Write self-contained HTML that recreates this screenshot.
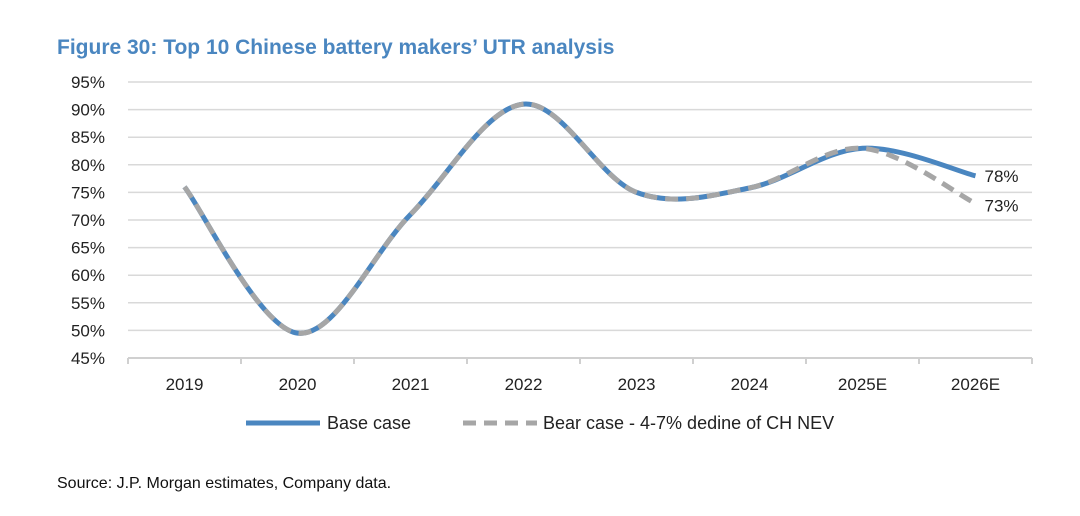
<!DOCTYPE html>
<html><head><meta charset="utf-8"><style>
body{margin:0;background:#fff;width:1080px;height:511px;overflow:hidden;font-family:"Liberation Sans",Arial,sans-serif}
</style></head><body>
<svg width="1080" height="511">
<text x="57" y="54" font-size="21" font-weight="bold" fill="#4a86c0">Figure 30: Top 10 Chinese battery makers’ UTR analysis</text>
<g id="grid"></g><g id="series"></g>
<g>
<line x1="246" y1="423" x2="320" y2="423" stroke="#4a86c0" stroke-width="5"/>
<text x="327" y="429" font-size="18" fill="#222">Base case</text>
<line x1="463" y1="423" x2="537" y2="423" stroke="#a6a6a6" stroke-width="5" stroke-dasharray="13 8"/>
<text x="543" y="429" font-size="18" fill="#222">Bear case - 4-7% dedine of CH NEV</text>
</g>
<text x="57" y="488" font-size="16" fill="#111">Source: J.P. Morgan estimates, Company data.</text>
</svg>
<script>
const categories=["2019","2020","2021","2022","2023","2024","2025E","2026E"];
const baseValues=[76,49.5,71,91,75,75.8,83,78];
const bearValues=[76,49.5,71,91,75,75.8,83,73];
const yTicks=[45,50,55,60,65,70,75,80,85,90,95];
const NS="http://www.w3.org/2000/svg";
const L=128,R=1032,step=(R-L)/categories.length;
const x=i=>L+step*(i+0.5);
const y=v=>358-(v-45)*5.52;
const grid=document.getElementById('grid'),ser=document.getElementById('series');
function mk(t,a,p){const e=document.createElementNS(NS,t);for(const k in a)e.setAttribute(k,a[k]);p.appendChild(e);return e;}
yTicks.forEach(v=>{
 if(v>45){const l=mk('line',{x1:L,x2:R,y1:y(v),y2:y(v),stroke:'#d9d9d9','stroke-width':1.5},grid);
 
 }
 const t=mk('text',{x:105,y:y(v)+6,'font-size':17,'text-anchor':'end',fill:'#222'},grid);t.textContent=v+'%';
 
 
});
const ax=mk('line',{x1:L,x2:R,y1:358,y2:358,stroke:'#d0d0d0','stroke-width':2},grid);


for(let i=0;i<=categories.length;i++){const tk=mk('line',{x1:L+step*i,x2:L+step*i,y1:358,y2:364,stroke:'#d0d0d0','stroke-width':2},grid);
 
 }
categories.forEach((c,i)=>{const t=mk('text',{x:x(i),y:390,'font-size':17,'text-anchor':'middle',fill:'#222'},grid);t.textContent=c;
 
 });
function path(vals){const p=vals.map((v,i)=>[x(i),y(v)]);let d=`M${p[0][0]},${p[0][1]}`;
 for(let i=0;i<p.length-1;i++){const p0=p[i-1]||p[i],p1=p[i],p2=p[i+1],p3=p[i+2]||p2;
 d+=` C${p1[0]+(p2[0]-p0[0])/6},${p1[1]+(p2[1]-p0[1])/6} ${p2[0]-(p3[0]-p1[0])/6},${p2[1]-(p3[1]-p1[1])/6} ${p2[0]},${p2[1]}`;}return d;}
const b=mk('path',{d:path(baseValues),fill:'none',stroke:'#4a86c0','stroke-width':5},ser);


const br=mk('path',{d:path(bearValues),fill:'none',stroke:'#a6a6a6','stroke-width':5,'stroke-dasharray':'13 8'},ser);


const n=categories.length-1;
const l1=mk('text',{x:x(n)+9,y:y(baseValues[n])+6,'font-size':17,fill:'#222'},ser);l1.textContent=baseValues[n]+'%';


const l2=mk('text',{x:x(n)+9,y:y(bearValues[n])+8,'font-size':17,fill:'#222'},ser);l2.textContent=bearValues[n]+'%';


</script>
</body></html>
